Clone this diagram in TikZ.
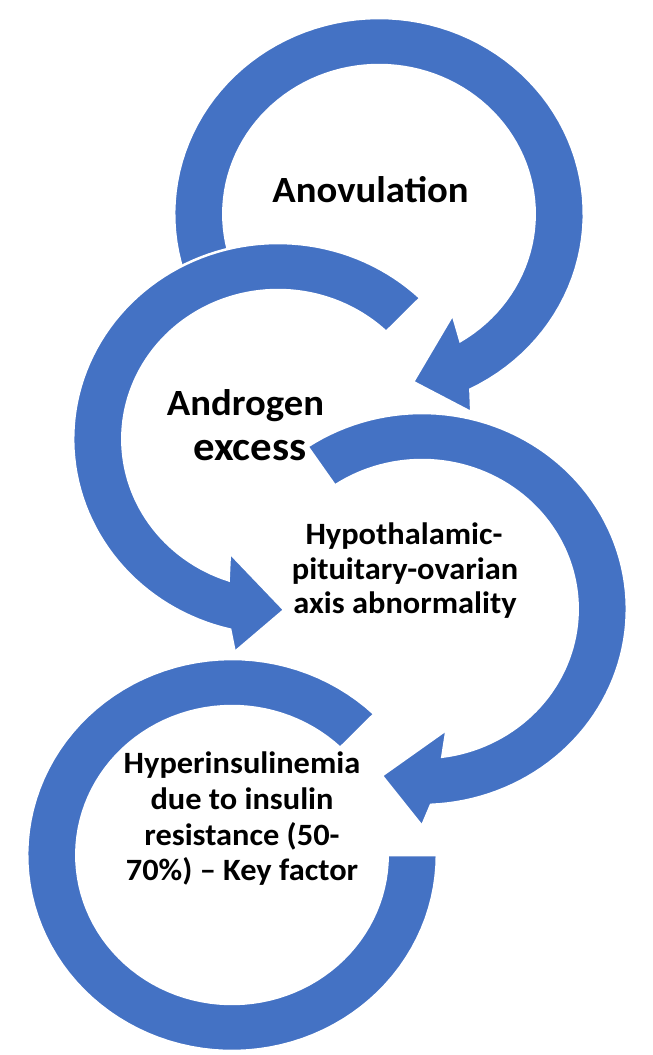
\documentclass[tikz,border=0pt]{standalone}
\usepackage{fontspec}
\usepackage{graphicx}
\setmainfont{Carlito}
\definecolor{arrowblue}{HTML}{4472C4}
\def\K{1.045}
\tikzset{
  band/.style={fill=arrowblue, draw=white, line width=2.5pt, line join=miter},
  lbl/.style={anchor=base, inner sep=0pt, text=black, font=\bfseries\fontsize{31}{36}\selectfont},
}
\newcommand{\hs}[1]{\scalebox{1.045}[1]{#1}}
\begin{document}
\begin{tikzpicture}[x=1pt,y=-1pt]
\useasboundingbox (0,0) rectangle (653,1055);
\fill[white] (0,0) rectangle (653,1055);

% circle 1 (Anovulation), clockwise
\filldraw[band] plot[domain=160:423.5, samples=90] ({379+\K*196*cos(\x)},{214+196*sin(\x)})
 -- ({379+\K*217*cos(426)},{214+217*sin(426)})
 -- ({379+\K*171*cos(439)},{214+171*sin(439)})
 -- ({379+\K*123*cos(415)},{214+123*sin(415)})
 -- ({379+\K*149*cos(418.5)},{214+149*sin(418.5)})
 -- plot[domain=418.5:160, samples=90] ({379+\K*149*cos(\x)},{214+149*sin(\x)})
 -- cycle;

% circle 2 (Androgen excess), counter-clockwise
\filldraw[band] plot[domain=-46:-256.5, samples=90] ({278+\K*196*cos(\x)},{439+196*sin(\x)})
 -- ({278+\K*217*cos(-259)},{439+217*sin(-259)})
 -- ({278+\K*171*cos(-272)},{439+171*sin(-272)})
 -- ({278+\K*123*cos(-248)},{439+123*sin(-248)})
 -- ({278+\K*149*cos(-251.5)},{439+149*sin(-251.5)})
 -- plot[domain=-251.5:-46, samples=90] ({278+\K*149*cos(\x)},{439+149*sin(\x)})
 -- cycle;

% circle 3 (HPO axis), clockwise
\filldraw[band] plot[domain=-124:87.5, samples=90] ({422+\K*196*cos(\x)},{609+196*sin(\x)})
 -- ({422+\K*217*cos(90)},{609+217*sin(90)})
 -- ({422+\K*171*cos(103)},{609+171*sin(103)})
 -- ({422+\K*123*cos(79)},{609+123*sin(79)})
 -- ({422+\K*149*cos(82.5)},{609+149*sin(82.5)})
 -- plot[domain=82.5:-124, samples=90] ({422+\K*149*cos(\x)},{609+149*sin(\x)})
 -- cycle;

% circle 4 (Hyperinsulinemia)
\filldraw[band] plot[domain=0:314, samples=100] ({232+\K*196*cos(\x)},{855+196*sin(\x)})
 -- plot[domain=314:0, samples=100] ({232+\K*149*cos(\x)},{855+149*sin(\x)})
 -- cycle;

% texts
\node[lbl, font=\bfseries\fontsize{37}{44}\selectfont] (ano) at (370.5,202) {\hs{Anovulation}};
\node[lbl, font=\bfseries\fontsize{37}{44}\selectfont] (andA) at (245.5,415) {\hs{Androgen}};
\node[lbl, font=\bfseries\fontsize{41}{48}\selectfont] (andB) at (250,460) {\hs{excess}};

\node[lbl] (hpoA) at (404,544) {\hs{Hypothalamic-}};
\node[lbl] (hpoB) at (405,579) {\hs{pituitary-ovarian}};
\node[lbl] (hpoC) at (405,613) {\hs{axis abnormality}};

\node[lbl] (hypA) at (242,773) {\hs{Hyperinsulinemia}};
\node[lbl] (hypB) at (242,809) {\hs{due to insulin}};
\node[lbl] (hypC) at (242,845) {\hs{resistance (50-}};
\node[lbl] (hypD) at (242,880) {\hs{70\%) – Key factor}};
\end{tikzpicture}
\end{document}
